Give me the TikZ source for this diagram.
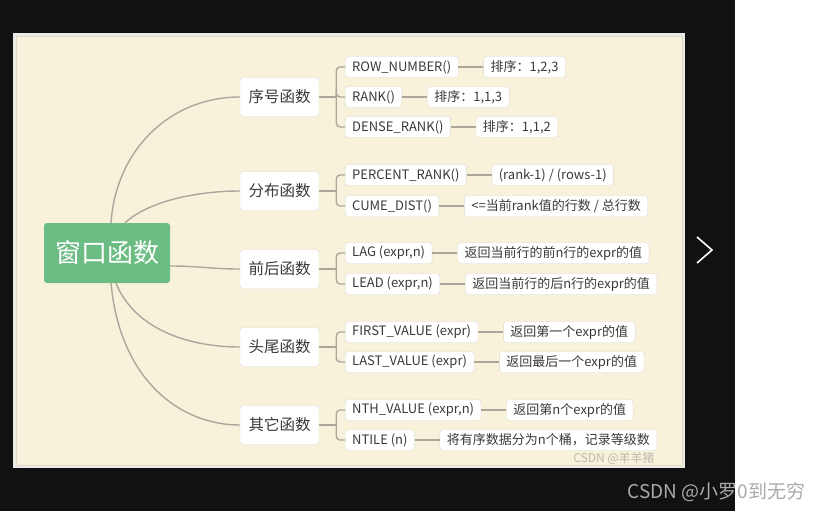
\documentclass[tikz,border=0pt]{standalone}
\usepackage{fontspec}
\setmainfont{Noto Sans CJK SC}
\usetikzlibrary{positioning}
\definecolor{pagedark}{HTML}{111111}
\definecolor{framegray}{HTML}{ECEAE4}
\definecolor{cream}{HTML}{F9F2DB}
\definecolor{rootgreen}{HTML}{6CBD83}
\definecolor{boxline}{HTML}{DCD8CC}
\definecolor{linkgray}{HTML}{ACA69B}
\definecolor{ink}{HTML}{3A3A3A}
\definecolor{credit}{HTML}{AAAAAA}
\begin{document}
\begin{tikzpicture}[x=1pt, y=-1pt,
    every node/.style={font=\fontsize{13}{15}\selectfont, text=ink},
    root/.style={rectangle, rounded corners=3pt, fill=rootgreen, minimum width=126pt, minimum height=60pt, font=\fontsize{26}{30}\selectfont, text=white},
    cat/.style={rectangle, rounded corners=3pt, draw=boxline, fill=white, minimum width=79pt, minimum height=39pt, font=\fontsize{15.5}{18}\selectfont},
    fn/.style={rectangle, rounded corners=3pt, draw=boxline, fill=white, minimum height=21pt, inner xsep=7pt, anchor=west},
    link/.style={draw=linkgray, line width=1.4pt},
    bracket/.style={link, rounded corners=4pt}]
    \useasboundingbox (0,0) rectangle (827,511);
    % page and panel
    \fill[pagedark] (0,0) rectangle (735,511);
    \fill[white] (735,0) rectangle (827,511);
    \fill[framegray] (13,33) rectangle (685,468);
    \filldraw[fill=cream, draw=boxline] (16,36) rectangle (682,465);
    \draw[white, line width=1.6pt] (697,237) -- (712,250) -- (697,263);

    \node[root] (win) at (107,253) {窗口函数};
    \node[cat] (seq) at (279.5,97) {序号函数};
    \node[cat] (dist) at (279.5,191) {分布函数};
    \node[cat] (shift) at (279.5,269) {前后函数};
    \node[cat] (ends) at (279.5,347) {头尾函数};
    \node[cat] (other) at (279.5,425) {其它函数};

    \node[fn] (rownum) at (345,67) {ROW\_NUMBER()};
    \node[fn] (rank) at (345,97) {RANK()};
    \node[fn] (dense) at (345,127) {DENSE\_RANK()};
    \node[fn] (pctrank) at (345,175) {PERCENT\_RANK()};
    \node[fn] (cume) at (345,206) {CUME\_DIST()};
    \node[fn] (lagfn) at (345,253) {LAG (expr,n)};
    \node[fn] (leadfn) at (345,284) {LEAD (expr,n)};
    \node[fn] (first) at (345,332) {FIRST\_VALUE (expr)};
    \node[fn] (last) at (345,362) {LAST\_VALUE (expr)};
    \node[fn] (nth) at (345,410) {NTH\_VALUE (expr,n)};
    \node[fn] (ntile) at (345,440) {NTILE (n)};

    \node[fn, right=25pt of rownum] (rownumv) {排序：1,2,3};
    \node[fn, right=25pt of rank] (rankv) {排序：1,1,3};
    \node[fn, right=25pt of dense] (densev) {排序：1,1,2};
    \node[fn, right=25pt of pctrank] (pctrankv) {(rank-1) / (rows-1)};
    \node[fn, right=25pt of cume] (cumev) {<=当前rank值的行数 / 总行数};
    \node[fn, right=25pt of lagfn] (lagv) {返回当前行的前n行的expr的值};
    \node[fn, right=25pt of leadfn] (leadv) {返回当前行的后n行的expr的值};
    \node[fn, right=25pt of first] (firstv) {返回第一个expr的值};
    \node[fn, right=25pt of last] (lastv) {返回最后一个expr的值};
    \node[fn, right=25pt of nth] (nthv) {返回第n个expr的值};
    \node[fn, right=25pt of ntile] (ntilev) {将有序数据分为n个桶，记录等级数};

    % root branches
    \draw[link] ([xshift=4pt]win.north) .. controls (116,150) and (170,97) .. (seq.west);
    \draw[link] ([xshift=18pt]win.north) .. controls (150,200) and (200,191) .. (dist.west);
    \draw[link] ([yshift=-13pt]win.east) .. controls (200,266) and (210,269) .. (shift.west);
    \draw[link] ([xshift=9pt]win.south) .. controls (135,330) and (190,347) .. (ends.west);
    \draw[link] ([xshift=4pt]win.south) .. controls (120,380) and (180,425) .. (other.west);

    % brackets
    \draw[link] (seq.east) -- ++(17,0) coordinate (seqb);
    \draw[bracket] (seqb) |- (rownum.west);
    \draw[bracket] (seqb) |- (rank.west);
    \draw[bracket] (seqb) |- (dense.west);
    \draw[link] (dist.east) -- ++(17,0) coordinate (distb);
    \draw[bracket] (distb) |- (pctrank.west);
    \draw[bracket] (distb) |- (cume.west);
    \draw[link] (shift.east) -- ++(17,0) coordinate (shiftb);
    \draw[bracket] (shiftb) |- (lagfn.west);
    \draw[bracket] (shiftb) |- (leadfn.west);
    \draw[link] (ends.east) -- ++(17,0) coordinate (endsb);
    \draw[bracket] (endsb) |- (first.west);
    \draw[bracket] (endsb) |- (last.west);
    \draw[link] (other.east) -- ++(17,0) coordinate (otherb);
    \draw[bracket] (otherb) |- (nth.west);
    \draw[bracket] (otherb) |- (ntile.west);

    % values
    \draw[link] (rownum) -- (rownumv);
    \draw[link] (rank) -- (rankv);
    \draw[link] (dense) -- (densev);
    \draw[link] (pctrank) -- (pctrankv);
    \draw[link] (cume) -- (cumev);
    \draw[link] (lagfn) -- (lagv);
    \draw[link] (leadfn) -- (leadv);
    \draw[link] (first) -- (firstv);
    \draw[link] (last) -- (lastv);
    \draw[link] (nth) -- (nthv);
    \draw[link] (ntile) -- (ntilev);

    \node[text=gray, opacity=0.5, font=\fontsize{12}{14}\selectfont, inner sep=1pt] (mark) at (614,458) {CSDN @羊羊猪};
    \node[text=credit, anchor=west, font=\fontsize{19}{22}\selectfont] (credit) at (624,492) {CSDN @小罗0到无穷};
\end{tikzpicture}
\end{document}
